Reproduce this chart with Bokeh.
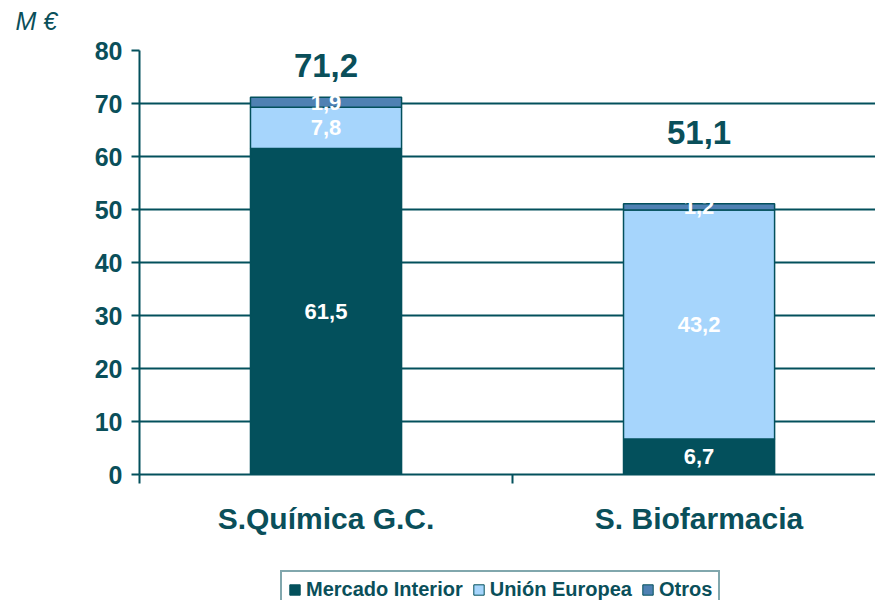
from bokeh.plotting import figure
from bokeh.layouts import column
from bokeh.models import (Range1d, FixedTicker, ColumnDataSource, Legend, LegendItem)
from bokeh.core.properties import value
from bokeh.embed import file_html
from bokeh.resources import INLINE

categories = ["S.Química G.C.", "S. Biofarmacia"]
mercado_interior = [61.5, 6.7]
union_europea = [7.8, 43.2]
otros = [1.9, 1.2]
totals = [71.2, 51.1]
series_names = ["Mercado Interior", "Unión Europea", "Otros"]
y_ticks = [0, 10, 20, 30, 40, 50, 60, 70, 80]
unit_label = "M €"

TEAL = "#03505C"
LIGHT = "#A6D5FC"
MID = "#4F81B3"
TXT = "#0A4F5A"
FONT = "Liberation Sans"
colors = [TEAL, LIGHT, MID]

# --- top strip with the unit label ---
p0 = figure(width=875, height=35, output_backend="svg", toolbar_location=None,
            min_border=0, x_range=Range1d(0, 875), y_range=Range1d(0, 35),
            x_axis_type=None, y_axis_type=None)
p0.grid.visible = False
p0.outline_line_color = None

# --- main chart ---
xs = [0.5, 1.5]
p = figure(frame_width=736, frame_height=424, x_range=Range1d(0, 1.973), y_range=Range1d(0, 80),
           output_backend="svg", toolbar_location=None,
           min_border_left=139, min_border_right=0, min_border_top=15, min_border_bottom=91)
p.outline_line_color = None
p.background_fill_color = "white"

# --- legend strip ---
p2 = figure(width=875, height=35, output_backend="svg", toolbar_location=None,
            min_border=0, x_range=Range1d(0, 1), y_range=Range1d(0, 1),
            x_axis_type=None, y_axis_type=None)
p2.grid.visible = False
p2.outline_line_color = None

aligned_off = True
try:
    for f in (p0, p, p2):
        f.frame_align = False
except Exception:
    aligned_off = False
shift = 0 if aligned_off else 139

p0.text(x=[15 - shift], y=[15], text=[unit_label], text_font=value(FONT), text_font_style="italic",
        text_font_size="25px", text_color=TXT, text_align="left", text_baseline="middle")

src = ColumnDataSource(dict(x=xs, mi=mercado_interior, ue=union_europea, ot=otros))
names = ["mi", "ue", "ot"]
rs = p.vbar_stack(names, x="x", width=0.405, source=src, color=colors,
                  line_color=TEAL, line_width=1.5)

# segment labels
lx, ly, lt = [], [], []
for i, x in enumerate(xs):
    base = 0
    for vals in (mercado_interior, union_europea, otros):
        v = vals[i]
        lx.append(x); ly.append(base + v / 2); lt.append(str(v).replace(".", ","))
        base += v
p.text(x=lx, y=ly, text=lt, text_color="white", text_font=value(FONT),
       text_font_style="bold", text_font_size="22px", text_align="center",
       text_baseline="middle")

# totals
p.text(x=xs, y=totals, text=[str(t).replace(".", ",") for t in totals],
       y_offset=[-32, -71], text_color=TXT, text_font=value(FONT),
       text_font_style="bold", text_font_size="33px", text_align="center",
       text_baseline="middle")

# axes
p.yaxis.ticker = FixedTicker(ticks=y_ticks)
p.yaxis.axis_line_color = TEAL
p.yaxis.axis_line_width = 2
p.yaxis.major_tick_line_color = TEAL
p.yaxis.major_tick_line_width = 2
p.yaxis.major_tick_out = 8
p.yaxis.major_tick_in = 0
p.yaxis.minor_tick_line_color = None
p.yaxis.major_label_text_font = FONT
p.yaxis.major_label_text_font_style = "bold"
p.yaxis.major_label_text_font_size = "25px"
p.yaxis.major_label_text_color = TXT
p.yaxis.major_label_standoff = 9

p.xaxis.ticker = FixedTicker(ticks=xs, minor_ticks=[0, 1, 2])
p.xaxis.major_label_overrides = {xs[i]: categories[i] for i in range(2)}
p.xaxis.axis_line_color = TEAL
p.xaxis.axis_line_width = 2
p.xaxis.major_tick_line_color = None
p.xaxis.major_tick_out = 0
p.xaxis.major_tick_in = 0
p.xaxis.minor_tick_line_color = TEAL
p.xaxis.minor_tick_line_width = 2
p.xaxis.minor_tick_out = 9
p.xaxis.minor_tick_in = 0
p.xaxis.major_label_text_font = FONT
p.xaxis.major_label_text_font_style = "bold"
p.xaxis.major_label_text_font_size = "30px"
p.xaxis.major_label_text_color = TXT
p.xaxis.major_label_standoff = 18

p.xgrid.grid_line_color = None
p.ygrid.ticker = FixedTicker(ticks=y_ticks)
p.ygrid.grid_line_color = TEAL
p.ygrid.grid_line_width = 2

dummies = [p2.vbar(x=[5], top=[5], bottom=[4], width=0.1, fill_color=colors[i], line_color=TEAL)
           for i in range(3)]
legend = Legend(items=[LegendItem(label=series_names[i], renderers=[dummies[i]]) for i in range(3)],
                orientation="horizontal", location=(280 - shift, -9))
legend.border_line_color = TEAL
legend.border_line_width = 2
legend.label_text_font = FONT
legend.label_text_font_style = "bold"
legend.label_text_font_size = "20px"
legend.label_text_color = TXT
legend.glyph_width = 13
legend.glyph_height = 13
legend.label_standoff = 5
legend.spacing = 9
legend.padding = 6
legend.margin = 0
p2.add_layout(legend)

layout = column(p0, p, p2, spacing=0)
open("out.html", "w").write(file_html(layout, INLINE))
